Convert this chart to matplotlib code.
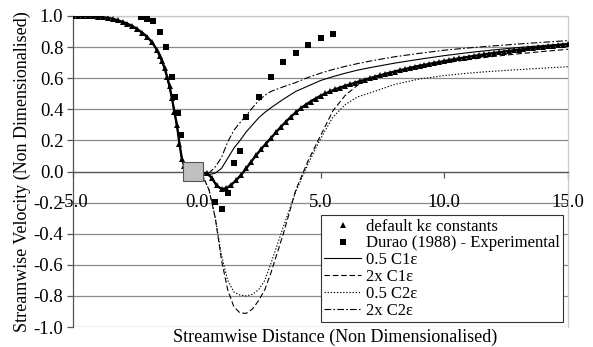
import matplotlib
matplotlib.use("Agg")
import matplotlib.pyplot as plt
from matplotlib.patches import Rectangle
from matplotlib.lines import Line2D

plt.rcParams['font.family'] = ['Liberation Serif', 'DejaVu Serif']
plt.rcParams['axes.unicode_minus'] = False

# ---- data ----
x_def = [-5.0, -4.8, -4.6, -4.4, -4.2, -4.0, -3.8, -3.6, -3.4, -3.2, -3.0, -2.8, -2.6, -2.4, -2.2,
         -2.0, -1.8, -1.6, -1.5, -1.4, -1.3, -1.2, -1.1, -1.0, -0.9, -0.8, -0.7, -0.6, -0.5, -0.4,
         -0.2, 0.0, 0.2, 0.4, 0.6, 0.8, 1.0, 1.2, 1.4, 1.6, 1.8, 2.0, 2.2, 2.4, 2.6, 2.8, 3.0,
         3.2, 3.4, 3.6, 3.8, 4.0, 4.2, 4.4, 4.6, 4.8, 5.0, 5.2, 5.4, 5.6, 5.8, 6.0, 6.2, 6.4, 6.6,
         6.8, 7.0, 7.2, 7.4, 7.6, 7.8, 8.0, 8.2, 8.4, 8.6, 8.8, 9.0, 9.2, 9.4, 9.6, 9.8, 10.0,
         10.2, 10.4, 10.6, 10.8, 11.0, 11.2, 11.4, 11.6, 11.8, 12.0, 12.2, 12.4, 12.6, 12.8, 13.0,
         13.2, 13.4, 13.6, 13.8, 14.0, 14.2, 14.4, 14.6, 14.8, 15.0]
y_def = [1.000, 1.000, 0.999, 0.998, 0.997, 0.995, 0.992, 0.988, 0.982, 0.973, 0.962, 0.950, 0.935, 0.915, 0.893,
         0.865, 0.830, 0.780, 0.745, 0.710, 0.665, 0.610, 0.550, 0.470, 0.380, 0.300, 0.180, 0.080, 0.035, 0.010,
         -0.010, -0.020, -0.012, -0.010, -0.040, -0.090, -0.113, -0.108, -0.085, -0.055, -0.020, 0.020, 0.063, 0.105, 0.143, 0.180, 0.215,
         0.252, 0.287, 0.320, 0.351, 0.380, 0.406, 0.429, 0.450, 0.469, 0.487, 0.502, 0.516, 0.529, 0.540, 0.551, 0.561, 0.571, 0.581,
         0.591, 0.600, 0.609, 0.618, 0.627, 0.635, 0.643, 0.651, 0.658, 0.666, 0.673, 0.680, 0.686, 0.692, 0.698, 0.704, 0.710,
         0.716, 0.722, 0.727, 0.733, 0.738, 0.743, 0.748, 0.753, 0.758, 0.762, 0.766, 0.771, 0.775, 0.779, 0.783,
         0.787, 0.791, 0.795, 0.798, 0.802, 0.806, 0.809, 0.813, 0.816, 0.820]

x_exp = [-2.25, -2.0, -1.75, -1.5, -1.25, -1.0, -0.875, -0.75, -0.625,
         0.75, 1.0, 1.25, 1.5, 1.75, 2.0, 2.5, 3.0, 3.5, 4.0, 4.5, 5.0, 5.5]
y_exp = [0.995, 0.98, 0.97, 0.90, 0.80, 0.61, 0.48, 0.374, 0.235,
         -0.198, -0.241, -0.14, 0.053, 0.132, 0.352, 0.481, 0.61, 0.702, 0.764, 0.813, 0.86, 0.882]

x_line = [-5.0, -4.5, -4.0, -3.5, -3.0, -2.5, -2.0, -1.75, -1.5, -1.25, -1.0, -0.875, -0.75, -0.625, -0.5, -0.25,
          0.0, 0.25, 0.5, 0.75, 1.0, 1.25, 1.5, 1.75, 2.0, 2.25, 2.5, 2.75, 3.0, 3.5, 4.0, 4.5, 5.0, 5.5,
          6.0, 6.5, 7.0, 8.0, 9.0, 10.0, 11.0, 12.0, 13.0, 14.0, 15.0]
y_c1_half = [1.0, 0.998, 0.995, 0.985, 0.962, 0.925, 0.865, 0.82, 0.75, 0.64, 0.47, 0.36, 0.24, 0.10, 0.03, -0.01,
             -0.02, -0.01, -0.02, -0.01, 0.02, 0.085, 0.15, 0.20, 0.255, 0.30, 0.345, 0.38, 0.41, 0.465, 0.515, 0.55, 0.585, 0.61,
             0.632, 0.652, 0.668, 0.697, 0.722, 0.745, 0.765, 0.782, 0.797, 0.81, 0.822]
y_c1_double = [1.0, 0.998, 0.995, 0.985, 0.962, 0.925, 0.865, 0.82, 0.75, 0.64, 0.47, 0.36, 0.24, 0.10, 0.03, -0.01,
               -0.02, -0.03, -0.12, -0.30, -0.57, -0.76, -0.87, -0.91, -0.912, -0.885, -0.83, -0.76, -0.65, -0.40, -0.12, 0.07, 0.23, 0.39,
               0.49, 0.555, 0.60, 0.645, 0.672, 0.698, 0.72, 0.74, 0.757, 0.772, 0.786]
y_c2_half = [1.0, 0.998, 0.995, 0.985, 0.962, 0.925, 0.865, 0.82, 0.75, 0.64, 0.47, 0.36, 0.24, 0.10, 0.03, -0.01,
             -0.02, -0.03, -0.12, -0.30, -0.54, -0.70, -0.775, -0.795, -0.80, -0.79, -0.76, -0.70, -0.59, -0.355, -0.13, 0.05, 0.21, 0.35,
             0.43, 0.48, 0.505, 0.56, 0.595, 0.617, 0.633, 0.645, 0.655, 0.665, 0.674]
y_c2_double = [1.0, 0.998, 0.995, 0.985, 0.962, 0.925, 0.865, 0.82, 0.75, 0.64, 0.47, 0.36, 0.24, 0.10, 0.03, -0.01,
               -0.02, -0.01, -0.01, 0.03, 0.09, 0.19, 0.265, 0.315, 0.36, 0.41, 0.455, 0.49, 0.515, 0.545, 0.572, 0.605, 0.632, 0.656,
               0.676, 0.694, 0.71, 0.738, 0.76, 0.78, 0.795, 0.808, 0.82, 0.831, 0.842]

x_ticks = [-5.0, 0.0, 5.0, 10.0, 15.0]
x_ticklabels = ["-5.0", "0.0", "5.0", "10.0", "15.0"]
y_ticks = [-1.0, -0.8, -0.6, -0.4, -0.2, 0.0, 0.2, 0.4, 0.6, 0.8, 1.0]

labels = ["default k\u03b5 constants", "Durao (1988) - Experimental", "0.5 C1\u03b5",
          "2x C1\u03b5", "0.5 C2\u03b5", "2x C2\u03b5"]

# ---- figure ----
fig = plt.figure(figsize=(5.93, 3.47), dpi=100)
ax = fig.add_axes([73/593, 1-327/347, 495/593, 311/347])
ax.set_xlim(-5, 15)
ax.set_ylim(-1.0, 1.0)

for yv in y_ticks:
    ax.axhline(yv, color='#8a8a8a', lw=0.9, zorder=0)

lw = 0.8
ax.plot(x_line, y_c1_half, '-', color='black', lw=lw, zorder=3)
ax.plot(x_line, y_c1_double, color='black', lw=lw, dashes=(5, 2.5), zorder=3)
ax.plot(x_line, y_c2_half, color='black', lw=lw, dashes=(1.2, 1.6), zorder=3)
ax.plot(x_line, y_c2_double, color='black', lw=lw, dashes=(6, 2, 1.5, 2), zorder=3)
ax.plot(x_def, y_def, '-', color='black', lw=1.7, zorder=4)
ax.plot(x_def, y_def, '^', color='black', ms=3.8, zorder=4, markeredgewidth=0)
ax.plot(x_exp, y_exp, 's', color='black', ms=4.6, zorder=5, markeredgewidth=0)

ax.add_patch(Rectangle((-0.57, -0.063), 0.83, 0.126, facecolor='#c0c0c0',
                       edgecolor='#555555', lw=0.8, zorder=6))

# axes styling
ax.spines['bottom'].set_position(('data', 0.0))
ax.spines['bottom'].set_color('#555555')
ax.spines['left'].set_color('#555555')
ax.spines['top'].set_color('#c8c8c8')
ax.spines['right'].set_color('#c8c8c8')
for s in ax.spines.values():
    s.set_linewidth(0.9)
ax.set_xticks(x_ticks)
ax.set_xticklabels(x_ticklabels)
ax.set_yticks(y_ticks)
ax.set_yticklabels([f"{v:.1f}" for v in y_ticks])
ax.tick_params(axis='x', direction='out', length=4, width=0.9, color='#555555', pad=12, labelsize=13.5)
ax.tick_params(axis='y', direction='out', length=4, width=0.9, color='#555555', pad=3, labelsize=13.5)

ax.set_ylabel("Streamwise Velocity (Non Dimensionalised)", fontsize=13)
ax.yaxis.set_label_coords(-0.085, 0.5)
fig.text(335/593, 1-337/347, "Streamwise Distance (Non Dimensionalised)", fontsize=13,
         ha='center', va='center')

handles = [
    Line2D([], [], marker='^', ls='none', color='black', ms=4, markeredgewidth=0),
    Line2D([], [], marker='s', ls='none', color='black', ms=5, markeredgewidth=0),
    Line2D([], [], ls='-', color='black', lw=lw),
    Line2D([], [], color='black', lw=lw, dashes=(5, 2.5)),
    Line2D([], [], color='black', lw=lw, dashes=(1.2, 1.6)),
    Line2D([], [], color='black', lw=lw, dashes=(6, 2, 1.5, 2)),
]
leg = ax.legend(handles, labels, loc='lower right', bbox_to_anchor=(0.99, 0.016),
                borderaxespad=0, fontsize=12, frameon=True, fancybox=False,
                handlelength=2.2, handletextpad=0.3, labelspacing=0.05,
                borderpad=0.2, framealpha=1)
leg.get_frame().set_edgecolor('#333333')
leg.get_frame().set_linewidth(0.8)
leg.set_zorder(10)

fig.savefig("out.png", dpi=100)
